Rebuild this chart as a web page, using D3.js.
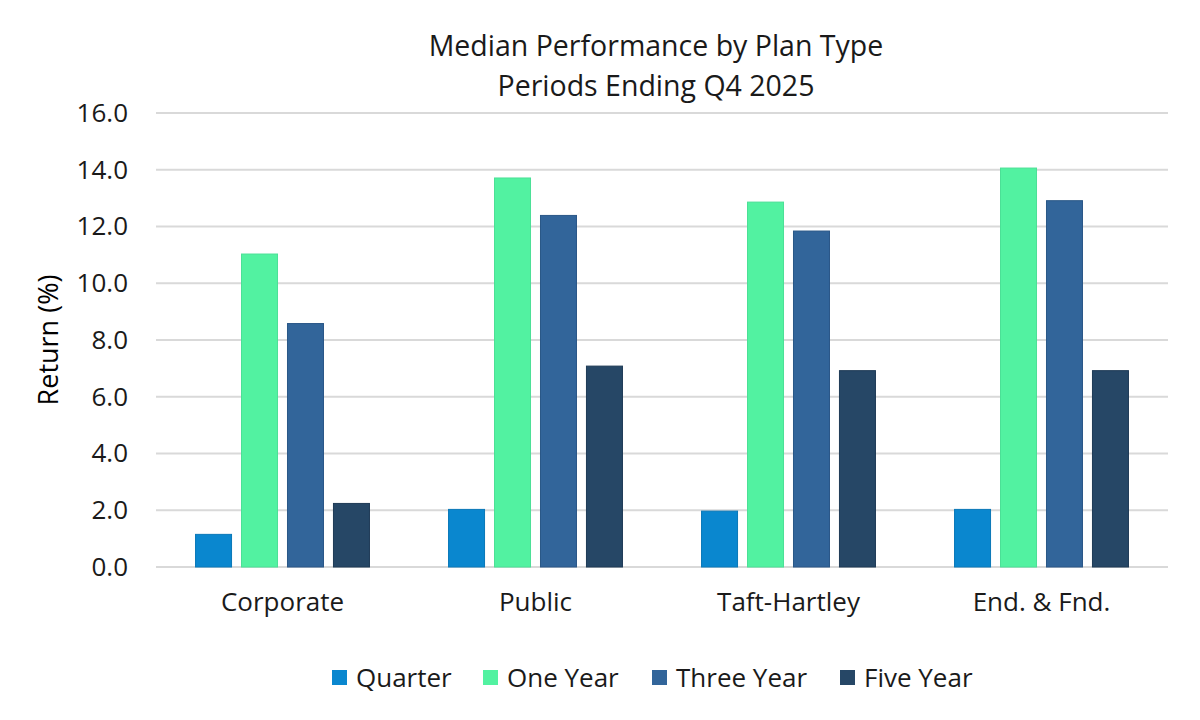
<!DOCTYPE html>
<html>
<head>
<meta charset="utf-8">
<script src="https://cdn.jsdelivr.net/npm/d3@7"></script>
<style>
  body { margin: 0; background: #fff; }
  text { font-family: "Open Sans", "Noto Sans", sans-serif; fill: #1a1a1a; }
</style>
</head>
<body>
<svg id="chart"></svg>
<script>
// Data
const categories = ["Corporate", "Public", "Taft-Hartley", "End. & Fnd."];
const seriesNames = ["Quarter", "One Year", "Three Year", "Five Year"];
const quarter = [1.15, 2.03, 1.97, 2.03];
const oneYear = [11.03, 13.71, 12.86, 14.06];
const threeYear = [8.58, 12.39, 11.84, 12.91];
const fiveYear = [2.24, 7.08, 6.92, 6.92];
const yTicks = [0, 2, 4, 6, 8, 10, 12, 14, 16];
const colors = ["#0A87CF", "#52F2A1", "#32659A", "#264766"];
const borders = ["#0A78B8", "#4BE096", "#2A5787", "#1E3A55"];

const seriesValues = [quarter, oneYear, threeYear, fiveYear];

const width = 1200;
const height = 720;
const margin = { top: 113, right: 32, bottom: 153, left: 156 };

const svg = d3.select("#chart")
    .attr("width", width)
    .attr("height", height);

const x0 = d3.scaleBand()
    .domain(categories)
    .range([margin.left, width - margin.right])
    .padding(0);

const x1 = d3.scaleBand()
    .domain(seriesNames)
    .range([0, x0.bandwidth()])
    .paddingInner(0.217)
    .paddingOuter(0.86);

const y = d3.scaleLinear()
    .domain([0, 16])
    .range([height - margin.bottom, margin.top]);

// Title
svg.append("text")
    .attr("x", 656)
    .attr("y", 56)
    .attr("text-anchor", "middle")
    .style("font-size", "28.5px")
    .text("Median Performance by Plan Type");
svg.append("text")
    .attr("x", 656)
    .attr("y", 96)
    .attr("text-anchor", "middle")
    .style("font-size", "28.5px")
    .text("Periods Ending Q4 2025");

// Gridlines
svg.append("g")
    .selectAll("line")
    .data(yTicks)
    .enter().append("line")
    .attr("x1", margin.left)
    .attr("x2", width - margin.right)
    .attr("y1", d => y(d))
    .attr("y2", d => y(d))
    .attr("stroke", "#d9d9d9")
    .attr("stroke-width", 2);

// Y axis
const yAxis = svg.append("g")
    .attr("transform", `translate(${margin.left},0)`)
    .call(d3.axisLeft(y).tickValues(yTicks).tickFormat(d3.format(".1f")).tickSize(0).tickPadding(28));
yAxis.select(".domain").remove();
yAxis.selectAll("text")
    .style("font-size", "26px")
    .style("font-family", "'Open Sans', sans-serif")
    .attr("fill", "#1a1a1a");

// Y axis label
svg.append("text")
    .attr("transform", `translate(58,${(y(0) + y(16)) / 2}) rotate(-90)`)
    .attr("text-anchor", "middle")
    .style("font-size", "27px")
    .style("font-weight", "500")
    .style("fill", "#000")
    .text("Return (%)");

// Bars
const groups = svg.append("g")
    .selectAll("g")
    .data(categories)
    .enter().append("g")
    .attr("transform", d => `translate(${x0(d)},0)`);

groups.selectAll("rect")
    .data((d, i) => seriesNames.map((s, j) => ({ s: s, j: j, v: seriesValues[j][i] })))
    .enter().append("rect")
    .attr("x", d => x1(d.s))
    .attr("y", d => y(d.v))
    .attr("width", x1.bandwidth())
    .attr("height", d => y(0) - y(d.v))
    .attr("fill", d => colors[d.j])
    .attr("stroke", d => borders[d.j])
    .attr("stroke-width", 1);

// X axis labels
const xAxis = svg.append("g")
    .attr("transform", `translate(0,${y(0)})`)
    .call(d3.axisBottom(x0).tickSize(0).tickPadding(26));
xAxis.select(".domain").remove();
xAxis.selectAll("text")
    .style("font-size", "26px")
    .style("font-family", "'Open Sans', sans-serif")
    .attr("fill", "#1a1a1a");

// Legend
const legendX = [332, 483, 652, 840];
const legend = svg.append("g")
    .selectAll("g")
    .data(seriesNames)
    .enter().append("g")
    .attr("transform", (d, i) => `translate(${legendX[i]},677)`);
legend.append("rect")
    .attr("x", 0)
    .attr("y", -7)
    .attr("width", 15)
    .attr("height", 15)
    .attr("fill", (d, i) => colors[i]);
legend.append("text")
    .attr("x", 24)
    .attr("y", 10)
    .style("font-size", "26px")
    .text(d => d);
</script>
</body>
</html>
